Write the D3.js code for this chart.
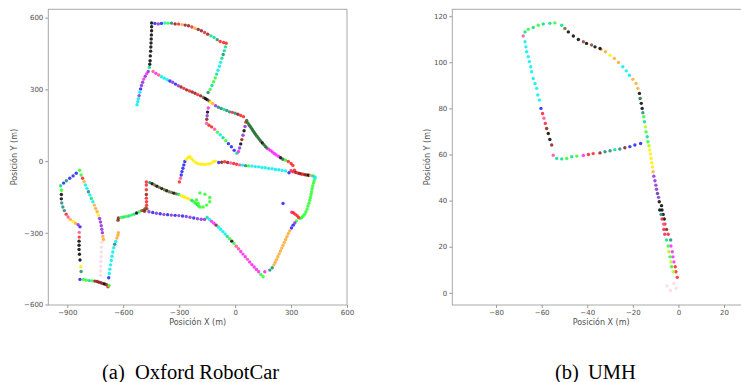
<!DOCTYPE html>
<html>
<head>
<meta charset="utf-8">
<script src="https://cdn.jsdelivr.net/npm/d3@7"></script>
<style>
  html, body { margin: 0; padding: 0; background: #fff; }
  svg { display: block; }
</style>
</head>
<body>
<figure id="trajectories" style="margin:0"></figure>
<script>
// colour of each point = sequence / class index
const palette = [
  "#000000", "#1f1fff", "#8a2be2", "#00eeee", "#2cff2c", "#00e08a", "#ff22ff",
  "#ff2020", "#ff1a75", "#ffee00", "#ffaa33", "#1e6b2a", "#8b1a1a", "#1a8a7a",
  "#ff4f9e", "#aaff00", "#8b4a2b", "#ffd6e8", "#4b3c9b", "#6b6b2a"
];

// Oxford RobotCar, [x, y, class]
const oxfordUpper = [
  [-448,578,0],[-448,562,0],[-448,545,0],[-449,528,0],[-450,511,0],[-451,494,0],[-452,477,0],
  [-453,460,0],[-455,440,0],[-456,420,0],[-458,405,0],[-460,392,5],
  [-430,576,1],[-412,574,2],[-395,576,1],[-377,578,3],[-360,577,4],[-341,577,13],[-322,574,12],
  [-303,573,7],[-285,571,10],[-268,569,12],[-250,566,12],[-232,561,7],[-215,556,10],[-198,551,12],
  [-181,545,12],[-164,538,7],[-147,531,12],[-130,524,5],[-113,517,5],[-96,508,13],[-80,500,7],
  [-62,496,7],[-48,493,7],
  [-52,478,5],[-58,462,5],[-64,446,13],[-71,430,5],[-78,413,3],[-84,397,3],[-92,380,3],
  [-99,364,5],[-107,348,4],[-115,332,4],[-124,316,5],[-134,300,4],[-145,287,13],
  [-466,375,2],[-474,366,6],[-482,355,2],[-490,343,6],[-496,330,2],[-502,316,2],[-507,302,1],
  [-511,288,3],[-515,274,2],[-519,261,3],[-522,248,3],[-526,236,3]
];
const oxfordDiagonal = [
  [-440,375,14],[-425,367,6],[-410,360,14],[-395,353,3],[-380,347,3],[-365,340,3],[-350,335,1],
  [-335,330,2],[-320,322,1],[-305,315,2],[-290,310,12],[-275,304,7],[-260,298,12],[-245,293,7],
  [-230,289,12],[-215,284,12],[-200,278,7],[-185,273,12],[-170,266,16],[-160,262,0],[-150,257,0],
  [-140,252,16],[-132,246,9],[-120,240,10],[-105,232,2],[-90,225,13],[-75,220,13],[-60,216,5],
  [-45,212,13],[-30,206,13],[-15,204,7],[0,200,13],[15,196,12],[30,191,7],[45,186,7],
  [-144,222,6],[-148,205,0],[-150,190,2],[-152,175,12],[-153,158,14],[-140,150,7],[-126,143,7],
  [-110,133,14],[-95,121,4],[-80,110,3],[-65,98,5],[-50,85,4],[-36,73,1],[-20,60,1],[-5,45,1],
  [10,33,5],[18,40,6],[24,55,2],[30,72,0],[36,90,12],[42,108,2],[48,127,0],[53,145,2],[57,163,7],
  [62,170,11],[68,160,11],[74,152,11],[80,146,11],[86,139,11],[92,132,11],[98,125,11],
  [104,118,11],[110,111,11],[117,104,11],[124,97,11],[131,90,11],[138,83,11],[146,76,0],
  [154,69,11],[162,61,11],[170,55,11],[180,50,6],[190,44,6],[200,38,6],[210,32,6],[220,26,6],
  [232,20,6],[244,14,0],[256,8,11],[270,4,4],[285,-2,7],[300,-10,7],[310,-18,7]
];
const oxfordMiddle = [
  [-243,18,9],[-234,10,9],[-224,2,9],[-212,-6,9],[-199,-11,9],[-185,-13,9],[-171,-13,9],
  [-157,-14,9],[-143,-12,9],[-129,-9,9],[-116,-3,9],[-104,0,9],
  [-88,-6,1],[-72,-5,12],[-56,-3,7],[-40,-6,12],[-24,-8,14],[-8,-10,7],[8,-13,7],
  [24,-16,14],[40,-17,3],[56,-19,13],[72,-20,4],[90,-21,3],[108,-23,3],[126,-24,3],
  [144,-27,3],[162,-28,3],[180,-31,3],[198,-32,3],[216,-35,3],[234,-36,3],[252,-39,3],[270,-41,3],
  [289,-49,1],[300,-40,7],[310,-45,8],[318,-38,7],[325,-48,12],[335,-50,7],[345,-52,12],
  [355,-54,12],[365,-55,7],[375,-57,12],[385,-58,12],[395,-59,0],[405,-60,10],[418,-62,5],
  [428,-66,3],
  [428,-72,3],[424,-82,4],[420,-92,4],[416,-104,4],[413,-116,4],[410,-128,4],[407,-140,4],
  [404,-152,4],[400,-164,4],[396,-176,4],[391,-188,4],[386,-200,4],[380,-212,4],[373,-222,4],
  [365,-230,4],[357,-236,4],[348,-240,4],[340,-236,7],[332,-228,7],[322,-222,7],[312,-216,7],
  [304,-214,8],
  [329,-250,4],[320,-259,2],[311,-268,1],[302,-280,1],[293,-292,10],[285,-304,10],[278,-316,10],
  [271,-328,10],[264,-340,10],[257,-352,10],[250,-364,10],[243,-376,10],[236,-388,10],
  [229,-400,10],[222,-412,10],[215,-423,10],[208,-434,10],[199,-446,13],[186,-456,13],
  [159,-463,6],[150,-484,4],
  [257,-177,1]
];
const oxfordLower = [
  [-150,-236,5],[-138,-244,3],[-126,-252,6],[-114,-260,6],[-102,-268,12],[-90,-276,3],
  [-78,-285,3],[-66,-295,3],[-54,-305,3],[-42,-315,5],[-30,-325,4],[-18,-335,0],[-6,-345,4],
  [6,-356,14],[18,-367,14],[30,-378,6],[42,-389,6],[54,-400,6],[66,-411,14],[78,-422,6],
  [90,-433,6],[102,-443,6],[114,-453,6],[126,-463,6],[138,-474,4],
  [-462,-212,2],[-442,-215,1],[-422,-218,2],[-402,-220,1],[-382,-223,2],[-362,-224,1],
  [-342,-226,2],[-322,-227,1],[-302,-228,2],[-282,-230,1],[-262,-232,2],[-242,-235,2],
  [-222,-238,1],[-202,-241,2],[-182,-243,2],[-164,-244,2],
  [-490,-205,16],[-484,-200,16],[-478,-196,19],[-473,-200,16],[-486,-210,12],[-475,-185,7],
  [-475,-170,7],[-476,-155,7],[-476,-140,12],[-476,-120,7],[-476,-100,7],[-476,-87,7],
  [-628,-247,12],[-626,-238,12],[-612,-236,4],[-598,-234,5],[-584,-232,4],[-570,-230,5],
  [-556,-226,4],[-542,-222,5],[-528,-217,0],[-514,-212,4],[-500,-207,16],
  [-458,-90,13],[-445,-95,0],[-432,-100,19],[-419,-105,0],[-406,-110,19],[-393,-115,0],
  [-380,-120,19],[-367,-124,0],[-354,-128,19],[-341,-131,19],[-328,-134,0],[-315,-137,19],
  [-302,-140,5],[-290,-144,9],[-278,-148,9],[-266,-152,9],[-254,-156,9],[-243,-160,9],
  [-232,-165,5],[-222,-170,4],[-212,-176,4],[-204,-182,5],[-196,-188,4],[-188,-192,4],
  [-189,-133,4],[-162,-139,4],[-136,-152,4],[-136,-170,4],[-153,-184,4],[-172,-192,4],
  [-198,-177,4],[-207,-163,4],
  [-299,-87,7],[-293,-72,14],[-289,-58,1],[-285,-44,1],[-280,-30,1],[-275,-16,1],
  [-270,-2,1],[-262,8,9],[-252,15,9]
];
const oxfordLeftLoop = [
  [-834,-38,4],[-852,-51,1],[-869,-62,1],[-887,-72,1],[-905,-82,13],[-920,-92,1],[-936,-103,5],
  [-931,-122,4],[-932,-140,0],[-932,-158,0],[-930,-175,13],[-924,-192,13],[-916,-207,13],
  [-906,-222,7],[-896,-234,14],[-884,-244,10],[-870,-252,9],[-856,-260,10],[-842,-266,2],
  [-832,-275,1],[-836,-298,14],[-836,-318,7],[-837,-335,0],[-837,-352,0],[-837,-370,0],
  [-835,-390,0],[-832,-414,0],[-828,-442,9],[-826,-462,13],[-832,-495,1],
  [-814,-495,4],[-798,-498,4],[-782,-500,5],[-766,-501,4],[-752,-502,12],[-740,-504,12],
  [-730,-507,12],[-720,-509,12],[-710,-512,12],[-700,-514,0],[-690,-517,12],[-682,-526,7],
  [-676,-520,4],
  [-678,-488,1],[-675,-470,3],[-672,-452,3],[-668,-434,3],[-664,-416,3],[-660,-398,3],
  [-656,-380,3],[-651,-362,3],[-646,-348,13],[-640,-336,3],[-634,-322,10],[-629,-310,10],
  [-626,-300,10],
  [-826,-58,4],[-818,-72,7],[-810,-86,10],[-803,-100,3],[-795,-114,3],[-787,-128,13],
  [-779,-142,3],[-771,-156,5],[-763,-170,3],[-755,-184,10],[-748,-198,10],[-740,-212,10],
  [-733,-226,9],[-727,-240,2],[-722,-255,2],[-718,-270,2],[-715,-285,2],[-712,-300,2],
  [-709,-315,10],[-706,-328,10],
  [-722,-478,17],[-722,-460,17],[-721,-440,17],[-720,-420,17],[-719,-400,17],[-718,-380,17],
  [-717,-360,17],[-716,-340,17]
];

// UMH, [x, y, class]
const umhColumn = [
  [-0.5,6.7,7],[-1.1,9.1,7],[-2.3,9.1,15],[-1.4,11.3,7],[-3.0,11.3,4],[-2.0,13.4,6],
  [-3.3,13.4,15],[-2.4,15.6,6],[-3.7,15.6,4],[-2.7,17.8,6],[-4.2,17.8,15],[-3.3,20.3,6],
  [-4.5,20.3,4],[-3.4,22.9,13],[-5.2,22.9,5],[-4.5,25.4,7],[-6.0,25.4,8],[-5.2,27.5,12],
  [-6.4,27.5,7],[-5.9,29.8,7],[-6.6,29.8,14],[-6.2,32.0,0],[-7.2,32.0,7],[-6.7,34.0,0],
  [-7.6,34.0,13],[-7.2,35.9,0],[-8.2,35.9,0],[-7.4,37.8,0],[-8.4,39.5,0],[-8.7,41.4,2],
  [-9.2,43.1,18],[-9.6,44.9,2],[-9.9,46.7,2],[-10.3,48.6,2],[-10.8,50.6,2],[-11.1,52.5,10],
  [-11.4,54.6,9],[-11.7,56.4,9],[-12.0,58.3,9],[-12.3,60.2,9],[-12.6,61.9,9],[-12.9,63.8,15],
  [-2,4,17],[-1,2,17],[-3.5,1,17],[-5,3,17]
];
const umhLoop = [
  [-13.4,65.5,4],[-13.7,67.7,5],[-14.2,69.8,4],[-14.5,72.0,15],[-14.9,74.2,5],[-15.2,76.4,4],
  [-15.6,78.1,13],[-15.9,80.0,0],[-16.3,82.2,0],[-16.8,84.3,11],[-17.1,86.5,0],[-17.8,88.7,10],
  [-18.6,90.8,10],[-20.0,92.6,10],[-21.5,94.4,3],[-22.9,96.3,3],[-24.4,98.1,3],[-26.3,99.9,10],
  [-28.1,101.7,10],[-30.0,103.1,9],[-32.0,104.6,10],[-33.9,105.6,10],[-34.4,106.0,0],
  [-36.6,106.7,0],[-38.1,107.5,16],[-40.3,108.2,0],[-41.7,108.9,16],[-43.9,109.9,0],
  [-46.1,111.4,0],[-48.3,113.2,0],[-49.8,114.7,19],[-51.2,116.1,5],[-54.2,117.1,4],
  [-56.4,116.9,5],[-59.3,116.6,5],[-61.5,116.1,4],[-63.7,115.1,5],[-65.9,114.3,4],[-67.3,113.2,5],
  [-68.1,111.4,14],[-67.3,108.9,3],[-66.9,106.7,3],[-66.6,104.6,3],[-65.9,102.4,3],
  [-65.4,100.3,3],[-64.8,98.1,3],[-64.4,95.9,3],[-63.7,93.0,3],[-62.9,90.8,3],[-62.2,88.7,3],
  [-61.7,85.8,3],[-61.0,83.6,3],[-60.3,80.0,1],[-59.6,77.8,7],[-59.0,75.7,14],[-58.4,73.5,7],
  [-57.8,71.3,12],[-57.1,69.1,0],[-56.4,66.5,0],[-55.6,64.1,12],[-54.9,59.7,14],
  [-53.4,58.3,5],[-51.2,58.1,5],[-49.0,58.3,4],[-46.8,59.0,5],[-44.6,59.3,4],[-41.7,59.6,6],
  [-39.5,60.0,7],[-37.4,60.4,7],[-34.4,60.7,12],[-32.2,61.2,13],[-30.0,61.6,13],[-27.9,62.1,5],
  [-25.7,62.4,13],[-23.5,62.9,12],[-21.3,63.4,1],[-19.1,64.1,1],[-16.6,64.8,1]
];

const oxfordXTicks = [-900, -600, -300, 0, 300, 600];
const oxfordYTicks = [-600, -300, 0, 300, 600];
const umhXTicks = [-80, -60, -40, -20, 0, 20];
const umhYTicks = [0, 20, 40, 60, 80, 100, 120];
const xLabel = "Posición X (m)";
const yLabel = "Posición Y (m)";
const captions = [["(a)", "Oxford RobotCar"], ["(b)", "UMH"]];

const width = 741;
const height = 382;

const svg = d3.select("figure#trajectories")
  .append("svg")
  .attr("width", width)
  .attr("height", height);

function drawPanel(opts) {
  const x = d3.scaleLinear().domain(opts.xDomain).range([opts.left, opts.right]);
  const y = d3.scaleLinear().domain(opts.yDomain).range([opts.bottom, opts.top]);
  const g = svg.append("g");

  // frame
  g.append("rect")
    .attr("x", opts.left).attr("y", opts.top)
    .attr("width", opts.right - opts.left).attr("height", opts.bottom - opts.top)
    .attr("fill", "none").attr("stroke", "#a8a8a8").attr("stroke-width", 1);

  // X axis
  const ax = g.append("g")
    .attr("transform", "translate(0," + opts.bottom + ")")
    .call(d3.axisBottom(x).tickValues(opts.xTicks).tickSize(3).tickPadding(2));
  // Y axis
  const ay = g.append("g")
    .attr("transform", "translate(" + opts.left + ",0)")
    .call(d3.axisLeft(y).tickValues(opts.yTicks).tickSize(3).tickPadding(2));
  [ax, ay].forEach(a => {
    a.select(".domain").remove();
    a.selectAll("line").attr("stroke", "#999");
    a.selectAll("text")
      .attr("fill", "#505050")
      .style("font-family", "DejaVu Sans, sans-serif")
      .style("font-size", "7px");
  });

  g.append("text")
    .attr("x", (opts.left + opts.right) / 2)
    .attr("y", opts.bottom + 20)
    .attr("text-anchor", "middle")
    .attr("fill", "#505050")
    .style("font-family", "DejaVu Sans, sans-serif")
    .style("font-size", "8px")
    .text(xLabel);
  g.append("text")
    .attr("transform", "translate(" + opts.yLabelX + "," + ((opts.top + opts.bottom) / 2) + ") rotate(-90)")
    .attr("text-anchor", "middle")
    .attr("dy", "0.35em")
    .attr("fill", "#505050")
    .style("font-family", "DejaVu Sans, sans-serif")
    .style("font-size", "8px")
    .text(yLabel);

  // Add dots
  const dots = g.append("g");
  dots.selectAll("circle")
    .data(opts.points)
    .enter()
    .append("circle")
    .attr("cx", d => x(d[0]))
    .attr("cy", d => y(d[1]))
    .attr("r", 1.7)
    .style("fill", d => palette[d[2]])
    .style("opacity", 0.85);

  // caption
  const cap = svg.append("text")
    .attr("y", 379)
    .style("font-family", "Liberation Serif, Times New Roman, serif")
    .style("font-size", "20.5px")
    .attr("fill", "#000");
  cap.append("tspan").attr("x", opts.capX).text(opts.caption[0]);
  cap.append("tspan").attr("x", opts.capX + 33).text(opts.caption[1]);
}

drawPanel({
  left: 48.3, right: 347, top: 9.3, bottom: 305,
  xDomain: [-1002, 600], yDomain: [-602, 635],
  xTicks: oxfordXTicks, yTicks: oxfordYTicks,
  points: [].concat(oxfordUpper, oxfordDiagonal, oxfordMiddle, oxfordLower, oxfordLeftLoop),
  yLabelX: 14, caption: captions[0], capX: 102
});

drawPanel({
  left: 452.3, right: 750, top: 9.3, bottom: 305,
  xDomain: [-99.2, 31.4], yDomain: [-5.3, 123.0],
  xTicks: umhXTicks, yTicks: umhYTicks,
  points: [].concat(umhColumn, umhLoop),
  yLabelX: 427, caption: captions[1], capX: 555
});
</script>
</body>
</html>
